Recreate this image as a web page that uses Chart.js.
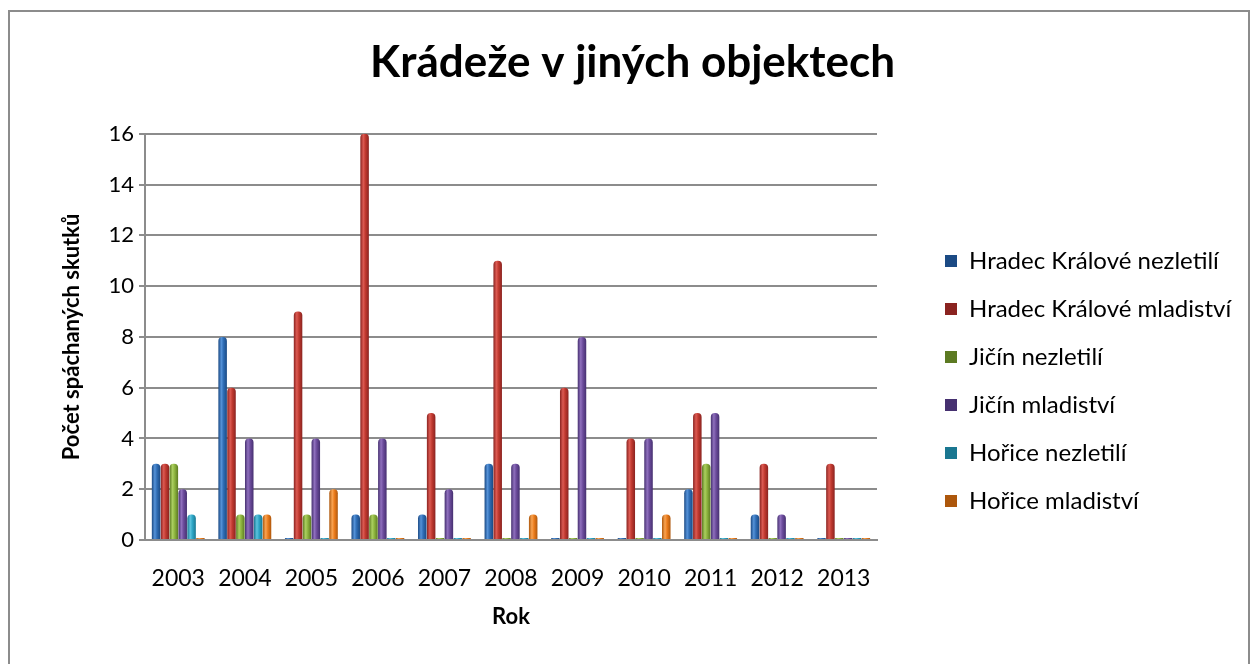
<!DOCTYPE html>
<html>
<head>
<meta charset="utf-8">
<script src="https://cdn.jsdelivr.net/npm/chart.js@4"></script>
<style>
  html, body { margin: 0; padding: 0; background: #fff; }
  #wrap { position: relative; width: 1252px; height: 664px; overflow: hidden; }
  #frame { position: absolute; left: 8px; top: 10px; width: 1238px; height: 700px; border: 2px solid #8c8c8c; pointer-events: none; }
</style>
</head>
<body>
<div id="wrap">
  <canvas id="c" width="1252" height="664"></canvas>
  <div id="frame"></div>
</div>
<script>
const chartTitle = 'Krádeže v jiných objektech';
const xTitle = 'Rok';
const yTitle = 'Počet spáchaných skutků';
const categories = ['2003','2004','2005','2006','2007','2008','2009','2010','2011','2012','2013'];
const seriesNames = ['Hradec Králové nezletilí','Hradec Králové mladiství','Jičín nezletilí','Jičín mladiství','Hořice nezletilí','Hořice mladiství'];
const hkNezletili = [3, 8, 0, 1, 1, 3, 0, 0, 2, 1, 0];
const hkMladistvi = [3, 6, 9, 16, 5, 11, 6, 4, 5, 3, 3];
const jicinNezletili = [3, 1, 1, 1, 0, 0, 0, 0, 3, 0, 0];
const jicinMladistvi = [2, 4, 4, 4, 2, 3, 8, 4, 5, 1, 0];
const horiceNezletili = [1, 1, 0, 0, 0, 0, 0, 0, 0, 0, 0];
const horiceMladistvi = [0, 1, 2, 0, 0, 1, 0, 1, 0, 0, 0];
const yTicks = [0, 2, 4, 6, 8, 10, 12, 14, 16];

const palette = [
  {base: '#2f6db5', dark: '#1b4a84', light: '#5592d8'},
  {base: '#c0392f', dark: '#8a2320', light: '#dc5a52'},
  {base: '#8db43e', dark: '#5c7a22', light: '#abcf60'},
  {base: '#6c4c9c', dark: '#463070', light: '#8f70bd'},
  {base: '#2ea6c6', dark: '#1a7791', light: '#5cc3de'},
  {base: '#ec7c1c', dark: '#ad570c', light: '#f9a452'}
];
const seriesData = [hkNezletili, hkMladistvi, jicinNezletili, jicinMladistvi, horiceNezletili, horiceMladistvi];

const CAT_PCT = 0.8, BAR_PCT = 0.96;
const FONT = 'Lato, "Open Sans", sans-serif';
const LEG_SIZE = 24, LEG_BOX = 12, LEG_PAD = 24;
const LEG_BOX_X = 945, GAP_W = 44;
const PAD_LEFT = 24;

// compute right padding so that the legend boxes start at LEG_BOX_X
const mctx = document.createElement('canvas').getContext('2d');
mctx.font = LEG_SIZE + 'px ' + FONT;
const maxTextW = Math.max(...seriesNames.map(n => mctx.measureText(n).width));
const legendW = LEG_PAD + LEG_BOX + LEG_SIZE / 2 + maxTextW + 10;
const padRight = Math.max(0, 1252 - (LEG_BOX_X - LEG_PAD) - legendW);

function cylFill(p) {
  return (ctx) => {
    const chart = ctx.chart;
    const area = chart.chartArea;
    if (ctx.type !== 'data' || !area || !chart.scales.x) return p.base;
    const xs = chart.scales.x;
    const cw = (area.right - area.left) / categories.length;
    const group = cw * CAT_PCT;
    const slot = group / seriesData.length;
    const bw = slot * BAR_PCT;
    const cx = xs.getPixelForValue(ctx.dataIndex);
    const left = cx - group / 2 + ctx.datasetIndex * slot + (slot - bw) / 2;
    if (!isFinite(left)) return p.base;
    const g = chart.ctx.createLinearGradient(left, 0, left + bw, 0);
    g.addColorStop(0, p.dark);
    g.addColorStop(0.35, p.light);
    g.addColorStop(0.6, p.base);
    g.addColorStop(1, p.dark);
    return g;
  };
}

const datasets = seriesNames.map((name, i) => ({
  label: name,
  data: seriesData[i],
  backgroundColor: cylFill(palette[i]),
  borderWidth: 0,
  borderRadius: {topLeft: 4, topRight: 4, bottomLeft: 0, bottomRight: 0},
  borderSkipped: 'start',
  minBarLength: 2,
  categoryPercentage: CAT_PCT,
  barPercentage: BAR_PCT
}));

new Chart(document.getElementById('c'), {
  type: 'bar',
  data: { labels: categories, datasets },
  options: {
    responsive: false,
    animation: false,
    layout: { padding: { left: PAD_LEFT, right: padRight, top: 0, bottom: 20 } },
    plugins: {
      title: {
        display: true,
        text: chartTitle,
        color: '#000',
        font: { family: FONT, size: 44, weight: 'bold' },
        padding: { top: 36, bottom: 45 }
      },
      legend: {
        position: 'right',
        align: 'start',
        maxWidth: 600,
        title: { display: true, text: ' ', font: { size: 10 }, padding: { top: 213, bottom: 0 } },
        labels: {
          boxWidth: LEG_BOX, boxHeight: LEG_BOX, padding: LEG_PAD,
          color: '#000',
          font: { family: FONT, size: LEG_SIZE }
        }
      },
      tooltip: { enabled: false }
    },
    scales: {
      x: {
        offset: true,
        grid: { display: false, drawTicks: false },
        border: { display: true, color: '#8c8c8c', width: 2 },
        ticks: { color: '#000', font: { family: FONT, size: 23 }, padding: 25, maxRotation: 0 },
        title: { display: true, text: xTitle, color: '#000', font: { family: FONT, size: 22, weight: 'bold' }, padding: { top: 0, bottom: 14 } },
        afterFit: (s) => { s.height = 104; }
      },
      y: {
        min: 0, max: 16,
        afterBuildTicks: (s) => { s.ticks = yTicks.map(v => ({ value: v })); },
        grid: { color: '#8c8c8c', lineWidth: 2, tickLength: 6, tickColor: '#8c8c8c' },
        border: { display: true, color: '#8c8c8c', width: 2 },
        ticks: { color: '#000', font: { family: FONT, size: 22 }, padding: 5 },
        title: { display: true, text: yTitle, color: '#000', font: { family: FONT, size: 22, weight: 'bold' }, padding: { top: 35, bottom: 0 } },
        afterFit: (s) => { s.width = 145 - PAD_LEFT; }
      },
      gap: {
        type: 'linear',
        position: 'right',
        display: true,
        grid: { display: false, drawTicks: false },
        border: { display: false },
        ticks: { display: false },
        afterFit: (s) => { s.width = GAP_W; }
      }
    }
  }
});
</script>
</body>
</html>
